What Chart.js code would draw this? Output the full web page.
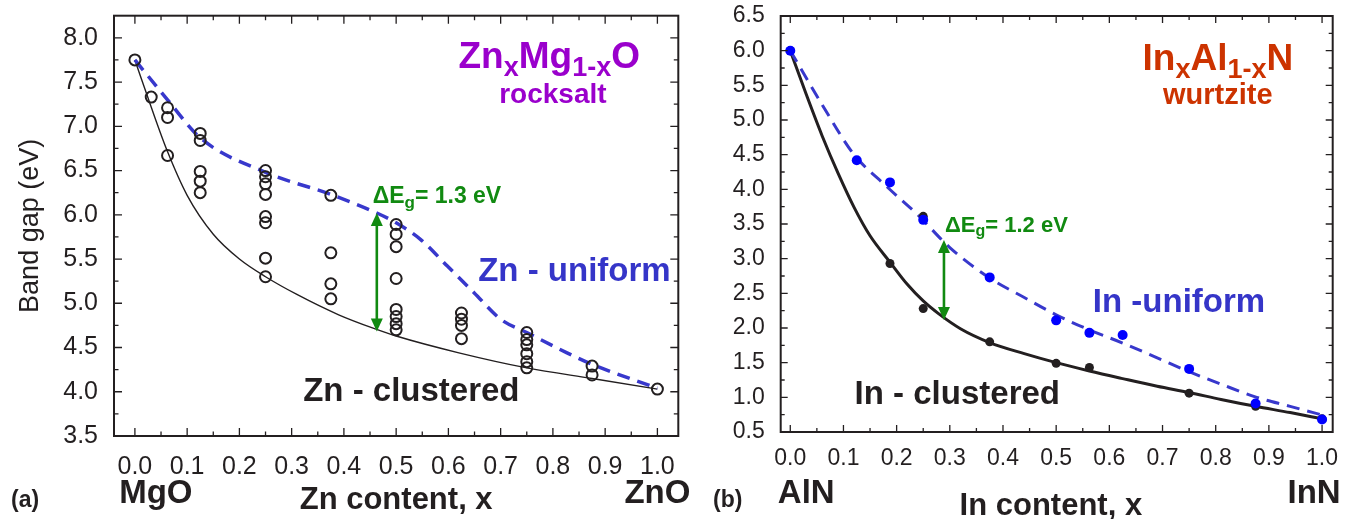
<!DOCTYPE html>
<html>
<head>
<meta charset="utf-8">
<script src="https://cdn.jsdelivr.net/npm/chart.js@4.4.0/dist/chart.umd.min.js"></script>
<style>
  html, body { margin: 0; padding: 0; background: #fff; }
  #wrap { position: relative; width: 1359px; height: 519px; }
  #wrap canvas { position: absolute; top: 0; }
</style>
</head>
<body>
<div id="wrap">
  <canvas id="chartA" width="700" height="519" style="left:0px"></canvas>
  <canvas id="chartB" width="659" height="519" style="left:700px"></canvas>
</div>
<script>
// ===================================================
// Band gap vs composition: (a) ZnxMg1-xO, (b) InxAl1-xN
// ===================================================

// ---- shared tick labels ----
var xTicks = [0, 0.1, 0.2, 0.3, 0.4, 0.5, 0.6, 0.7, 0.8, 0.9, 1.0];
var znGapTicks = [3.5, 4.0, 4.5, 5.0, 5.5, 6.0, 6.5, 7.0, 7.5, 8.0];
var inGapTicks = [0.5, 1.0, 1.5, 2.0, 2.5, 3.0, 3.5, 4.0, 4.5, 5.0, 5.5, 6.0, 6.5];

// ---- (a) ZnxMg1-xO rocksalt: computed configurations (open circles) ----
var znPointX = [0, 0.03125, 0.0625, 0.0625, 0.0625,
  0.125, 0.125, 0.125, 0.125, 0.125,
  0.25, 0.25, 0.25, 0.25, 0.25, 0.25, 0.25, 0.25,
  0.375, 0.375, 0.375, 0.375,
  0.5, 0.5, 0.5, 0.5, 0.5, 0.5, 0.5, 0.5,
  0.625, 0.625, 0.625, 0.625,
  0.75, 0.75, 0.75, 0.75, 0.75, 0.75,
  0.875, 0.875, 1.0];
var znPointGap = [7.75, 7.33, 7.21, 7.10, 6.67,
  6.92, 6.84, 6.49, 6.38, 6.25,
  6.50, 6.43, 6.35, 6.23, 5.98, 5.91, 5.51, 5.30,
  6.22, 5.57, 5.22, 5.05,
  5.89, 5.78, 5.64, 5.28, 4.93, 4.85, 4.77, 4.70,
  4.89, 4.82, 4.75, 4.60,
  4.67, 4.59, 4.53, 4.43, 4.34, 4.27,
  4.29, 4.19, 4.03];

// Zn - clustered (solid) and Zn - uniform (dashed) curves
var znClusterX = [0, 0.031, 0.062, 0.10, 0.15, 0.20, 0.25, 0.31, 0.39, 0.46, 0.50, 0.62, 0.75, 0.875, 1.0];
var znClusterGap = [7.75, 7.22, 6.72, 6.22, 5.78, 5.50, 5.30, 5.10, 4.87, 4.71, 4.63, 4.44, 4.27, 4.15, 4.03];
var znUniformX = [0, 0.0625, 0.125, 0.25, 0.375, 0.463, 0.5, 0.547, 0.598, 0.649, 0.70, 0.75, 0.827, 0.875, 1.0];
var znUniformGap = [7.75, 7.30, 6.87, 6.48, 6.23, 6.02, 5.91, 5.72, 5.42, 5.12, 4.82, 4.67, 4.44, 4.31, 4.04];

// ---- (b) InxAl1-xN wurtzite ----
var inUniDotX = [0, 0.125, 0.1875, 0.25, 0.375, 0.5, 0.5625, 0.625, 0.75, 0.875, 1.0];
var inUniDotGap = [6.0, 4.42, 4.10, 3.56, 2.73, 2.11, 1.93, 1.90, 1.41, 0.91, 0.68];
var inCluDotX = [0, 0.1875, 0.25, 0.25, 0.375, 0.5, 0.5625, 0.75, 0.875, 1.0];
var inCluDotGap = [6.0, 2.93, 3.61, 2.28, 1.80, 1.49, 1.43, 1.06, 0.87, 0.69];

var inCluCurveX = [0, 0.03, 0.06, 0.09, 0.12, 0.15, 0.1875, 0.22, 0.25, 0.28, 0.32, 0.375, 0.44, 0.50, 0.5625, 0.625, 0.69, 0.75, 0.81, 0.875, 0.94, 1.0];
var inCluCurveGap = [6.0, 5.37, 4.77, 4.23, 3.74, 3.33, 2.95, 2.63, 2.39, 2.20, 1.99, 1.79, 1.63, 1.50, 1.38, 1.27, 1.16, 1.07, 0.97, 0.87, 0.78, 0.69];
var inUniCurveX = [0, 0.06, 0.12, 0.18, 0.24, 0.30, 0.375, 0.44, 0.50, 0.56, 0.626, 0.69, 0.75, 0.81, 0.873, 0.94, 1.0];
var inUniCurveGap = [6.0, 5.22, 4.50, 4.05, 3.63, 3.16, 2.72, 2.44, 2.19, 1.98, 1.78, 1.57, 1.37, 1.19, 1.01, 0.87, 0.745];

// ---- colours / fonts ----
var INK = '#231f20';
var BLUE_TXT = '#3535c8';
var BLUE_LINE = '#3838cc';
var GREEN = '#118a11';
var PURPLE = '#9a00cc';
var ORANGE = '#cc3300';
var FONT = "'Liberation Sans', Arial, Helvetica, sans-serif";
var TICK_FONT = "'Liberation Sans Narrow', 'Arial Narrow', 'Liberation Sans', Arial, sans-serif";

Chart.defaults.font.family = FONT;

function pts(xs, ys) {
  return xs.map(function(x, i) { return { x: x, y: ys[i] }; });
}

function fixedTicks(values) {
  return function(scale) {
    scale.ticks = values.map(function(v) { return { value: v }; });
  };
}

function fixSize(prop, size) {
  return function(scale) {
    scale[prop] = size;
    scale.paddingLeft = scale.paddingRight = scale.paddingTop = scale.paddingBottom = 0;
  };
}

/**
 * Draw a string made of normal and subscript parts
 */
function drawRich(ctx, parts, x, y, align, size, subSize, color) {
  var total = 0;
  parts.forEach(function(p) {
    ctx.font = 'bold ' + (p[1] ? subSize : size) + 'px ' + FONT;
    total += ctx.measureText(p[0]).width;
  });
  var cx = align === 'center' ? x - total / 2 : x;
  ctx.fillStyle = color;
  ctx.textAlign = 'left';
  ctx.textBaseline = 'alphabetic';
  parts.forEach(function(p) {
    ctx.font = 'bold ' + (p[1] ? subSize : size) + 'px ' + FONT;
    ctx.fillText(p[0], cx, p[1] ? y + size * 0.22 : y);
    cx += ctx.measureText(p[0]).width;
  });
}

function drawText(ctx, txt, x, y, font, color, align) {
  ctx.font = font;
  ctx.fillStyle = color;
  ctx.textAlign = align || 'left';
  ctx.textBaseline = 'alphabetic';
  ctx.fillText(txt, x, y);
}

function doubleArrow(ctx, x, y1, y2, color) {
  var head = 13, half = 6;
  ctx.save();
  ctx.strokeStyle = color;
  ctx.fillStyle = color;
  ctx.lineWidth = 2.6;
  ctx.beginPath();
  ctx.moveTo(x, y1 + head - 2);
  ctx.lineTo(x, y2 - head + 2);
  ctx.stroke();
  ctx.beginPath();
  ctx.moveTo(x, y1); ctx.lineTo(x - half, y1 + head); ctx.lineTo(x + half, y1 + head); ctx.closePath();
  ctx.fill();
  ctx.beginPath();
  ctx.moveTo(x, y2); ctx.lineTo(x - half, y2 - head); ctx.lineTo(x + half, y2 - head); ctx.closePath();
  ctx.fill();
  ctx.restore();
}

/**
 * Frame with inward major/minor ticks on all four sides
 */
function drawFrame(chart, frameWidth, majorLen, minorLen) {
  var ctx = chart.ctx, a = chart.chartArea;
  var xs = chart.scales.x, ys = chart.scales.y;
  var xv = xs.ticks.map(function(t) { return t.value; });
  var yv = ys.ticks.map(function(t) { return t.value; });
  ctx.save();
  ctx.strokeStyle = INK;
  ctx.lineWidth = 1.3;
  ctx.beginPath();
  function xTick(v, len) {
    var p = xs.getPixelForValue(v);
    ctx.moveTo(p, a.bottom); ctx.lineTo(p, a.bottom - len);
    ctx.moveTo(p, a.top); ctx.lineTo(p, a.top + len);
  }
  function yTick(v, len) {
    var p = ys.getPixelForValue(v);
    ctx.moveTo(a.left, p); ctx.lineTo(a.left + len, p);
    ctx.moveTo(a.right, p); ctx.lineTo(a.right - len, p);
  }
  xv.forEach(function(v, i) {
    xTick(v, majorLen);
    if (i < xv.length - 1) xTick((v + xv[i + 1]) / 2, minorLen);
  });
  yv.forEach(function(v, i) {
    yTick(v, majorLen);
    if (i < yv.length - 1) yTick((v + yv[i + 1]) / 2, minorLen);
  });
  ctx.stroke();
  ctx.lineWidth = frameWidth;
  ctx.strokeRect(a.left, a.top, a.right - a.left, a.bottom - a.top);
  ctx.restore();
}

function baseScales(xMin, xMax, yMin, yMax, yTicks, tickFont, xPad) {
  return {
    x: {
      type: 'linear', min: xMin, max: xMax,
      grid: { display: false }, border: { display: false },
      afterBuildTicks: fixedTicks(xTicks),
      afterFit: fixSize('height', 40),
      ticks: { padding: xPad, color: INK, font: { size: tickFont, family: TICK_FONT }, maxRotation: 0, autoSkip: false,
        callback: function(v) { return Number(v).toFixed(1); } }
    },
    y: {
      type: 'linear', min: yMin, max: yMax,
      grid: { display: false }, border: { display: false },
      afterBuildTicks: fixedTicks(yTicks),
      afterFit: fixSize('width', 60),
      ticks: { padding: 8, color: INK, font: { size: tickFont, family: TICK_FONT }, autoSkip: false,
        callback: function(v) { return Number(v).toFixed(1); } }
    }
  };
}

// ---------------- (a) ----------------
var panelA = {
  id: 'panelA',
  afterDraw: function(chart) {
    var ctx = chart.ctx, xs = chart.scales.x, ys = chart.scales.y;
    drawFrame(chart, 2, 8, 4.5);
    ctx.save();
    drawRich(ctx, [['Zn', 0], ['x', 1], ['Mg', 0], ['1-x', 1], ['O', 0]],
      xs.getPixelForValue(0.793), ys.getPixelForValue(7.66), 'center', 37, 27, PURPLE);
    drawText(ctx, 'rocksalt', xs.getPixelForValue(0.80), ys.getPixelForValue(7.26), 'bold 28px ' + FONT, PURPLE, 'center');
    drawText(ctx, 'Zn - uniform', xs.getPixelForValue(0.657), ys.getPixelForValue(5.25), 'bold 33px ' + FONT, BLUE_TXT);
    drawText(ctx, 'Zn - clustered', xs.getPixelForValue(0.322), ys.getPixelForValue(3.89), 'bold 33px ' + FONT, INK);
    drawRich(ctx, [['\u0394E', 0], ['g', 1], ['= 1.3 eV', 0]],
      xs.getPixelForValue(0.455), ys.getPixelForValue(6.13), 'left', 23, 17, GREEN);
    doubleArrow(ctx, xs.getPixelForValue(0.463), ys.getPixelForValue(6.02), ys.getPixelForValue(4.68), GREEN);

    // axis titles and end-member names
    ctx.save();
    ctx.translate(28, (chart.chartArea.top + chart.chartArea.bottom) / 2);
    ctx.rotate(-Math.PI / 2);
    drawText(ctx, 'Band gap (eV)', 0, 10, '27px ' + FONT, INK, 'center');
    ctx.restore();
    drawText(ctx, '(a)', 11, 507, 'bold 23px ' + FONT, INK);
    drawText(ctx, 'MgO', xs.getPixelForValue(0.04), 503, 'bold 33px ' + FONT, INK, 'center');
    drawText(ctx, 'Zn content, x', xs.getPixelForValue(0.5), 509, 'bold 31px ' + FONT, INK, 'center');
    drawText(ctx, 'ZnO', xs.getPixelForValue(1.0), 503, 'bold 33px ' + FONT, INK, 'center');
    ctx.restore();
  }
};

new Chart(document.getElementById('chartA').getContext('2d'), {
  type: 'scatter',
  data: {
    datasets: [
      {
        label: 'configurations',
        data: pts(znPointX, znPointGap),
        pointStyle: 'circle',
        pointRadius: 5.5,
        pointBorderWidth: 2,
        borderColor: INK,
        backgroundColor: 'rgba(0,0,0,0)',
        showLine: false
      },
      {
        label: 'Zn - uniform',
        data: pts(znUniformX, znUniformGap),
        showLine: true,
        borderColor: BLUE_LINE,
        borderWidth: 3.5,
        borderDash: [13, 8],
        pointRadius: 0,
        cubicInterpolationMode: 'monotone'
      },
      {
        label: 'Zn - clustered',
        data: pts(znClusterX, znClusterGap),
        showLine: true,
        borderColor: INK,
        borderWidth: 1.4,
        pointRadius: 0,
        cubicInterpolationMode: 'monotone'
      }
    ]
  },
  options: {
    responsive: false,
    animation: false,
    devicePixelRatio: 1,
    layout: { padding: { left: 54, right: 21.7, top: 15.7, bottom: 43 } },
    plugins: { legend: { display: false }, tooltip: { enabled: false } },
    scales: baseScales(-0.04, 1.04, 3.5, 8.25, znGapTicks, 25, 8)
  },
  plugins: [panelA]
});

// ---------------- (b) ----------------
var panelB = {
  id: 'panelB',
  afterDraw: function(chart) {
    var ctx = chart.ctx, xs = chart.scales.x, ys = chart.scales.y;
    drawFrame(chart, 2, 7, 4);
    ctx.save();
    drawRich(ctx, [['In', 0], ['x', 1], ['Al', 0], ['1-x', 1], ['N', 0]],
      xs.getPixelForValue(0.804), ys.getPixelForValue(5.72), 'center', 37, 27, ORANGE);
    drawText(ctx, 'wurtzite', xs.getPixelForValue(0.804), ys.getPixelForValue(5.23), 'bold 29px ' + FONT, ORANGE, 'center');
    drawText(ctx, 'In -uniform', xs.getPixelForValue(0.569), ys.getPixelForValue(2.235), 'bold 33px ' + FONT, BLUE_TXT);
    drawText(ctx, 'In - clustered', xs.getPixelForValue(0.121), ys.getPixelForValue(0.9), 'bold 33px ' + FONT, INK);
    drawRich(ctx, [['\u0394E', 0], ['g', 1], ['= 1.2 eV', 0]],
      xs.getPixelForValue(0.291), ys.getPixelForValue(3.39), 'left', 22, 16, GREEN);
    doubleArrow(ctx, xs.getPixelForValue(0.289), ys.getPixelForValue(3.27), ys.getPixelForValue(2.115), GREEN);

    drawText(ctx, '(b)', 13, 507, 'bold 23px ' + FONT, INK);
    drawText(ctx, 'AlN', xs.getPixelForValue(0.03), 503, 'bold 33px ' + FONT, INK, 'center');
    drawText(ctx, 'In content, x', xs.getPixelForValue(0.49), 515, 'bold 31px ' + FONT, INK, 'center');
    drawText(ctx, 'InN', xs.getPixelForValue(0.985), 503, 'bold 33px ' + FONT, INK, 'center');
    ctx.restore();
  }
};

new Chart(document.getElementById('chartB').getContext('2d'), {
  type: 'scatter',
  data: {
    datasets: [
      {
        label: 'In - uniform points',
        data: pts(inUniDotX, inUniDotGap),
        pointStyle: 'circle',
        pointRadius: 5,
        pointBorderWidth: 0,
        backgroundColor: '#0000ff',
        borderColor: '#0000ff',
        showLine: false
      },
      {
        label: 'In - clustered points',
        data: pts(inCluDotX, inCluDotGap),
        pointStyle: 'circle',
        pointRadius: 4.5,
        pointBorderWidth: 0,
        backgroundColor: INK,
        borderColor: INK,
        showLine: false
      },
      {
        label: 'In - uniform',
        data: pts(inUniCurveX, inUniCurveGap),
        showLine: true,
        borderColor: BLUE_LINE,
        borderWidth: 3,
        borderDash: [13, 8],
        pointRadius: 0,
        cubicInterpolationMode: 'monotone'
      },
      {
        label: 'In - clustered',
        data: pts(inCluCurveX, inCluCurveGap),
        showLine: true,
        borderColor: INK,
        borderWidth: 3,
        pointRadius: 0,
        cubicInterpolationMode: 'monotone'
      }
    ]
  },
  options: {
    responsive: false,
    animation: false,
    devicePixelRatio: 1,
    layout: { padding: { left: 20.7, right: 26.3, top: 16, bottom: 47 } },
    plugins: { legend: { display: false }, tooltip: { enabled: false } },
    scales: baseScales(-0.018, 1.02, 0.5, 6.5, inGapTicks, 23, 5)
  },
  plugins: [panelB]
});
</script>
</body>
</html>
